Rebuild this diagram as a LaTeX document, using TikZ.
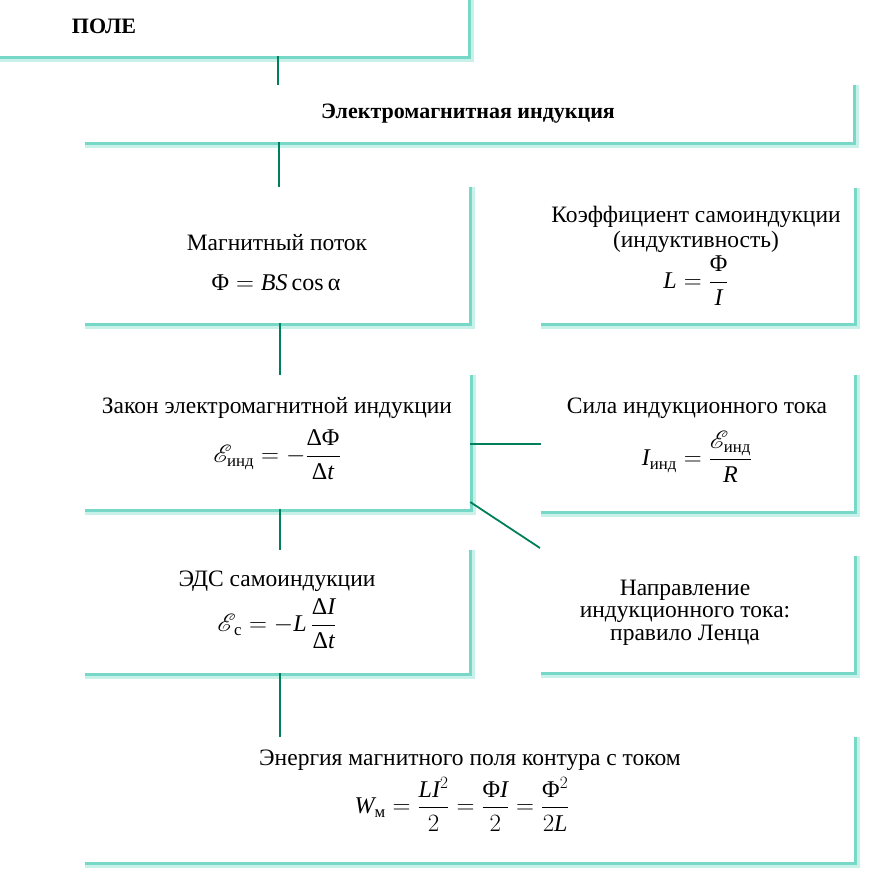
\documentclass[tikz,border=0pt]{standalone}
\usepackage{amsmath}
\usepackage{mathrsfs}
\usepackage{fontspec}
\setmainfont{Liberation Serif}
\usetikzlibrary{calc}
\definecolor{shteal}{RGB}{120,216,200}
\definecolor{shlight}{RGB}{200,241,234}
\definecolor{conngreen}{RGB}{0,128,90}
\newcommand{\mi}[1]{\text{\itshape #1}}
\newcommand{\ee}{\mathscr{E}}
\begin{document}
\begin{tikzpicture}[x=1pt,y=-1pt,
  card/.style={draw=none,fill=white,rectangle,inner sep=0pt},
  lbl/.style={font=\fontsize{23.5}{25}\selectfont,inner sep=0pt,align=center},
  fml/.style={font=\fontsize{24}{26}\selectfont,inner sep=0pt},
  hdr/.style={font=\fontsize{22}{25}\selectfont\bfseries,inner sep=0pt},
  conn/.style={draw=conngreen,line width=1.8pt},
  shout/.style={draw=shlight,line width=6pt},
  shin/.style={draw=shteal,line width=2.4pt}]
\useasboundingbox[fill=white] (0,0) rectangle (871,887);
% cards
\node[card,minimum width=468pt,minimum height=56pt] (pole) at (234,28) {};
\node[card,minimum width=768pt,minimum height=57pt] (emi) at (469,113.5) {};
\node[card,minimum width=384pt,minimum height=136pt] (flux) at (277,255) {};
\node[card,minimum width=313pt,minimum height=135pt] (coef) at (697.5,255.5) {};
\node[card,minimum width=385pt,minimum height=134pt] (law) at (277.5,442) {};
\node[card,minimum width=313pt,minimum height=136pt] (force) at (697.5,443) {};
\node[card,minimum width=384pt,minimum height=123pt] (emf) at (277,611.5) {};
\node[card,minimum width=313pt,minimum height=116pt] (lenz) at (697.5,614) {};
\node[card,minimum width=769pt,minimum height=125pt] (energy) at (469.5,799.5) {};
% shadows
\foreach \n in {pole,emi,flux,coef,law,force,emf,lenz,energy}{
  \draw[shout] ([xshift=3pt]\n.north east) -- ([shift={(3pt,-3pt)}]\n.south east) -- ([yshift=-3pt]\n.south west);
  \draw[shin] ([xshift=1.2pt]\n.north east) -- ([shift={(1.2pt,-1.2pt)}]\n.south east) -- ([yshift=-1.2pt]\n.south west);
}
% texts
\node[hdr] (tpole) at (104,26) {ПОЛЕ};
\node[hdr] (temi) at (468,114) {Электромагнитная индукция};
\node[lbl] (tflux) at (277,243) {Магнитный поток};
\node[fml] (fflux) at (276,283) {$\text{Φ} = \mi{BS}\,\text{cos}\,\text{α}$};
\node[lbl] (tcoef) at (696,229.5) {Коэффициент самоиндукции\\(индуктивность)};
\node[fml] (fcoef) at (696,281) {$\mi{L}=\dfrac{\text{Φ}}{\mi{I}}$};
\node[lbl] (tlaw) at (277,408) {Закон электромагнитной индукции};
\node[fml] (flaw) at (277,455) {$\ee_{\text{инд}} = -\dfrac{\text{ΔΦ}}{\text{Δ}\mi{t}}$};
\node[lbl] (tforce) at (697,408) {Сила индукционного тока};
\node[fml] (fforce) at (697,457) {$\mi{I}_{\text{инд}} = \dfrac{\ee_{\text{инд}}}{\mi{R}}$};
\node[lbl] (temf) at (277,581) {ЭДС самоиндукции};
\node[fml] (femf) at (277,624) {$\ee_{\,\text{с}} = -\mi{L}\,\dfrac{\text{Δ}\mi{I}}{\text{Δ}\mi{t}}$};
\node[lbl,font=\fontsize{23.5}{22.5}\selectfont] (tlenz) at (685,612.5) {Направление\\индукционного тока:\\правило Ленца};
\node[lbl] (tenergy) at (470,760) {Энергия магнитного поля контура с током};
\node[fml] (fenergy) at (462,804) {$\mi{W}_{\text{м}} = \dfrac{\mi{LI}^2}{2} = \dfrac{\text{Φ}\mi{I}}{2} = \dfrac{\text{Φ}^2}{2\mi{L}}$};
% connectors
\coordinate (v1) at (278,0);
\coordinate (v2) at (279,0);
\coordinate (v3) at (280,0);
\draw[conn] (v1 |- pole.south) -- (v1 |- emi.north);
\draw[conn] (v2 |- emi.south) -- (v2 |- flux.north);
\draw[conn] (v3 |- flux.south) -- (v3 |- law.north);
\draw[conn] (v3 |- law.south) -- (v3 |- emf.north);
\draw[conn] (v3 |- emf.south) -- (v3 |- energy.north);
\coordinate (h1) at (0,444);
\draw[conn] (law.east |- h1) -- (force.west |- h1);
\coordinate (d1) at (0,502);
\coordinate (d2) at (540,548);
\draw[conn] (law.east |- d1) -- (d2);
\end{tikzpicture}
\end{document}
